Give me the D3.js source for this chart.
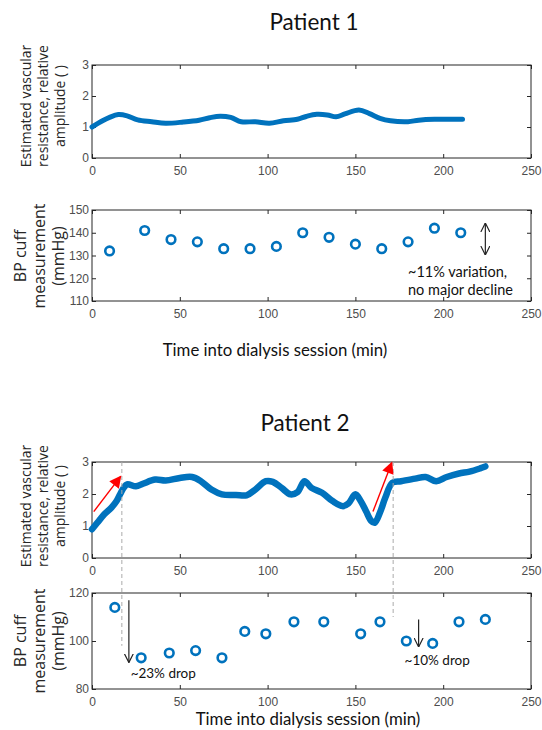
<!DOCTYPE html>
<html>
<head>
<meta charset="utf-8">
<script src="https://cdn.jsdelivr.net/npm/d3@7"></script>
<style>
  body { margin: 0; background: #fff; }
  svg { display: block; }
</style>
</head>
<body>
<div id="chart"></div>
<script>
// ---- data ----
const xTicks = [0, 50, 100, 150, 200, 250];

// Patient 1 - estimated vascular resistance trace
const p1Time = [0, 6, 10, 15, 20, 26, 34, 42, 52, 61, 67, 73, 79, 85, 93, 101, 109, 117, 122, 128, 134, 139, 144, 152, 158, 164, 170, 180, 186, 195, 203, 211];
const p1Resist = [1.0, 1.2, 1.31, 1.4, 1.36, 1.23, 1.17, 1.12, 1.16, 1.22, 1.3, 1.35, 1.31, 1.17, 1.17, 1.12, 1.2, 1.25, 1.34, 1.41, 1.39, 1.33, 1.42, 1.55, 1.43, 1.28, 1.2, 1.17, 1.22, 1.25, 1.25, 1.25];
// Patient 1 - BP cuff
const p1BpTime = [10, 30, 45, 60, 75, 90, 105, 120, 135, 150, 165, 180, 195, 210];
const p1Bp = [132, 141, 137, 136, 133, 133, 134, 140, 138, 135, 133, 136, 142, 140];

// Patient 2 - estimated vascular resistance trace
const p2Time = [0, 3, 7, 11, 14, 16, 18, 20, 25, 29, 36, 42, 50, 57, 62, 68, 74, 82, 88, 93, 99, 103, 108, 113, 117, 121, 125, 131, 137, 143, 146, 150, 153, 156, 159, 161, 164, 167, 171, 176, 184, 190, 196, 202, 209, 215, 221, 224];
const p2Resist = [0.9, 1.1, 1.37, 1.57, 1.78, 1.99, 2.19, 2.3, 2.24, 2.32, 2.45, 2.42, 2.5, 2.53, 2.4, 2.14, 1.99, 1.97, 1.96, 2.14, 2.4, 2.38, 2.19, 1.99, 2.06, 2.4, 2.19, 2.04, 1.78, 1.62, 1.7, 1.99, 1.78, 1.47, 1.16, 1.1, 1.42, 1.88, 2.35, 2.4, 2.48, 2.53, 2.4, 2.53, 2.64, 2.7, 2.8, 2.86];
// Patient 2 - BP cuff
const p2BpTime = [13, 28, 44, 59, 74, 87, 99, 115, 132, 153, 164, 179, 194, 209, 224];
const p2Bp = [114, 93, 95, 96, 93, 104, 103, 108, 108, 103, 108, 100, 99, 108, 109];

// annotations (data units)
const p2RedArrows = [[1, 1.45, 16.3, 2.55], [160, 1.45, 170.7, 2.98]];
const p2DashX = [17, 171.5];
const p2DashEndBp = [98, 110];
const p2DropArrows = [[21, 117, 91], [186, 109, 97.5]];
const p2DropText = [[22, "~23% drop", 84.5], [178, "~10% drop", 90]];

const blue = "#0072BD";
const axisCol = "#262626";
const tickCol = "#4d4d4d";

const width = 542, height = 730;
const svg = d3.select("#chart").append("svg")
  .attr("width", width).attr("height", height);

const defs = svg.append("defs");
defs.append("marker").attr("id", "redHead")
  .attr("viewBox", "0 0 10 10").attr("refX", 9).attr("refY", 5)
  .attr("markerWidth", 13).attr("markerHeight", 12).attr("markerUnits", "userSpaceOnUse")
  .attr("orient", "auto")
  .append("path").attr("d", "M0,0 L10,5 L0,10 Z").attr("fill", "#ff0000");
defs.append("marker").attr("id", "openHead")
  .attr("viewBox", "0 0 10 10").attr("refX", 10).attr("refY", 5)
  .attr("markerWidth", 9).attr("markerHeight", 10).attr("markerUnits", "userSpaceOnUse")
  .attr("orient", "auto-start-reverse")
  .append("path").attr("d", "M0,0 L10,5 L0,10").attr("fill", "none")
  .attr("stroke", "#222").attr("stroke-width", 1.3);

const x = d3.scaleLinear().domain([0, 250]).range([92, 531]);

function panel(top, bottom, yDomain, yTicks) {
  const y = d3.scaleLinear().domain(yDomain).range([bottom, top]);
  const g = svg.append("g");
  // ticks inward, all four sides
  g.append("g").attr("transform", `translate(0,${bottom})`)
    .call(d3.axisBottom(x).tickValues(xTicks).tickSizeInner(-4).tickSizeOuter(0).tickPadding(8));
  g.append("g").attr("transform", `translate(0,${top})`)
    .call(d3.axisTop(x).tickValues(xTicks).tickSizeInner(-4).tickSizeOuter(0).tickFormat(""));
  g.append("g").attr("transform", `translate(${x(0)},0)`)
    .call(d3.axisLeft(y).tickValues(yTicks).tickFormat(d3.format("d"))
      .tickSizeInner(-4).tickSizeOuter(0).tickPadding(3));
  g.append("g").attr("transform", `translate(${x(250)},0)`)
    .call(d3.axisRight(y).tickValues(yTicks).tickSizeInner(-4).tickSizeOuter(0).tickFormat(""));
  g.selectAll(".domain").remove();
  g.selectAll(".tick line").attr("stroke", axisCol);
  g.selectAll(".tick text").attr("fill", tickCol)
    .style("font-family", "'Liberation Sans', Arial, sans-serif").style("font-size", "12px");
  g.append("rect").attr("x", x(0)).attr("y", top)
    .attr("width", x(250) - x(0)).attr("height", bottom - top)
    .attr("fill", "none").attr("stroke", axisCol).attr("stroke-width", 1);
  return y;
}

function yLabel(lines, xs, cy, size) {
  lines.forEach((t, i) => {
    svg.append("text")
      .attr("transform", `translate(${xs[i]},${cy}) rotate(-90)`)
      .attr("text-anchor", "middle").attr("dominant-baseline", "central")
      .style("font-family", "'Open Sans', sans-serif")
      .style("font-size", size + "px").attr("fill", axisCol)
      .text(t);
  });
}

function calibri(txt, px, py, size, anchor) {
  return svg.append("text").attr("x", px).attr("y", py)
    .attr("text-anchor", anchor || "start")
    .style("font-family", "Lato, 'Open Sans', sans-serif")
    .style("font-size", size + "px").attr("fill", "#111").text(txt);
}

function trace(y, times, vals, w) {
  const line = d3.line().x((d, i) => x(times[i])).y(d => y(d)).curve(d3.curveCatmullRom);
  svg.append("path").datum(vals).attr("d", line)
    .attr("fill", "none").attr("stroke", blue).attr("stroke-width", w)
    .attr("stroke-linejoin", "round").attr("stroke-linecap", "round");
}

function dots(y, times, vals) {
  svg.append("g").selectAll("circle").data(vals).join("circle")
    .attr("cx", (d, i) => x(times[i])).attr("cy", d => y(d)).attr("r", 4.3)
    .attr("fill", "#fff").attr("stroke", blue).attr("stroke-width", 2.6);
}

// ---------- Patient 1 ----------
calibri("Patient 1", 314, 30, 22.5, "middle");
const y1 = panel(65, 158, [0, 3], [0, 1, 2, 3]);
yLabel(["Estimated vascular", "resistance, relative", "amplitude  ( )"], [25, 42, 59], 106, 14);
trace(y1, p1Time, p1Resist, 5);

const y2 = panel(210, 301, [110, 150], [110, 120, 130, 140, 150]);
yLabel(["BP cuff", "measurement", "(mmHg)"], [20, 39, 58], 256, 16);
dots(y2, p1BpTime, p1Bp);
svg.append("line").attr("x1", x(224)).attr("x2", x(224))
  .attr("y1", y2(144.3)).attr("y2", y2(130.2))
  .attr("stroke", "#222").attr("stroke-width", 1.2)
  .attr("marker-start", "url(#openHead)").attr("marker-end", "url(#openHead)");
calibri("~11% variation,", 408, 277, 14.5);
calibri("no major decline", 408, 295, 14.5);
calibri("Time into dialysis session (min)", 275, 356, 16.8, "middle");

// ---------- Patient 2 ----------
calibri("Patient 2", 305, 431, 22.5, "middle");
const y3 = panel(462, 558, [0, 3], [0, 1, 2, 3]);
yLabel(["Estimated vascular", "resistance, relative", "amplitude  ( )"], [25, 42, 59], 506, 14);
trace(y3, p2Time, p2Resist, 6.5);

const y4 = panel(593, 689, [80, 120], [80, 100, 120]);
yLabel(["BP cuff", "measurement", "(mmHg)"], [20, 39, 58], 641, 16);

// dashed guides spanning both panels
p2DashX.forEach((t, i) => {
  svg.append("line").attr("x1", x(t)).attr("x2", x(t))
    .attr("y1", y3(3)).attr("y2", y4(p2DashEndBp[i]))
    .attr("stroke", "#aaa").attr("stroke-width", 1).attr("stroke-dasharray", "4,3");
});
p2RedArrows.forEach(a => {
  svg.append("line").attr("x1", x(a[0])).attr("y1", y3(a[1]))
    .attr("x2", x(a[2])).attr("y2", y3(a[3]))
    .attr("stroke", "#ff0000").attr("stroke-width", 1.4)
    .attr("marker-end", "url(#redHead)");
});
dots(y4, p2BpTime, p2Bp);
p2DropArrows.forEach(a => {
  svg.append("line").attr("x1", x(a[0])).attr("x2", x(a[0]))
    .attr("y1", y4(a[1])).attr("y2", y4(a[2]))
    .attr("stroke", "#222").attr("stroke-width", 1.2)
    .attr("marker-end", "url(#openHead)");
});
p2DropText.forEach(d => calibri(d[1], x(d[0]), y4(d[2]), 13.5));
calibri("Time into dialysis session (min)", 308, 725, 16.8, "middle");
</script>
</body>
</html>
